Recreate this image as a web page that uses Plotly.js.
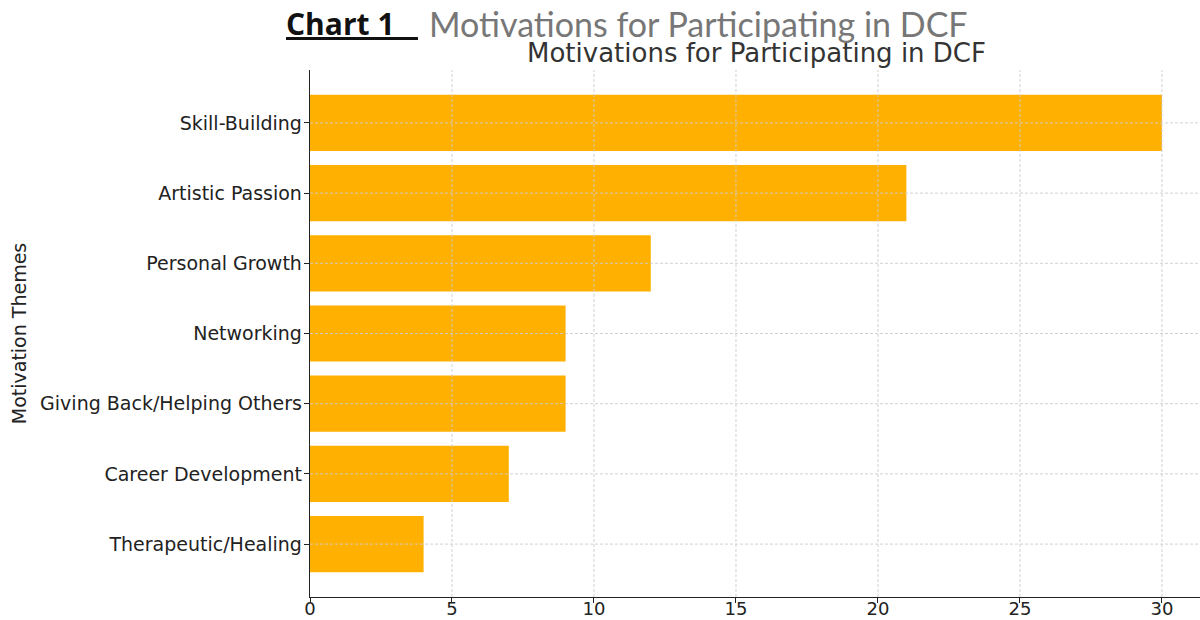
<!DOCTYPE html>
<html>
<head>
<meta charset="utf-8">
<script src="https://cdn.plot.ly/plotly-3.0.1.min.js"></script>
<style>html,body{margin:0;padding:0;background:#fff;}#chart{width:1200px;height:620px;}</style>
</head>
<body>
<div id="chart"></div>
<script>
const categories = ["Therapeutic/Healing", "Career Development", "Giving Back/Helping Others", "Networking", "Personal Growth", "Artistic Passion", "Skill-Building"];
const counts = [4, 7, 9, 9, 12, 21, 30];
const xTicks = [0, 5, 10, 15, 20, 25, 30];

const font = "DejaVu Sans, sans-serif";
const gridStyle = {color: "#cccccc", width: 0.9, dash: "3px,2px"};

const trace = {
  type: "bar",
  orientation: "h",
  y: categories,
  x: counts,
  marker: {color: "#FFB000", line: {width: 0}},
  hoverinfo: "none"
};

// Grid lines drawn above the bars, as in the reference
const shapes = [];
xTicks.forEach(v => {
  if (v === 0) return;
  shapes.push({type: "line", xref: "x", yref: "paper", x0: v, x1: v, y0: 0, y1: 1, layer: "above", line: gridStyle});
});
categories.forEach((c, i) => {
  shapes.push({type: "line", xref: "paper", yref: "y", x0: 0, x1: 1, y0: i, y1: i, layer: "above", line: gridStyle});
});

const layout = {
  width: 1200, height: 620,
  margin: {l: 310, r: 0, t: 70, b: 23},
  paper_bgcolor: "#fff", plot_bgcolor: "#fff",
  bargap: 0.2,
  showlegend: false,
  font: {family: font, color: "#222", size: 19},
  xaxis: {
    range: [0, 31.34],
    tickvals: xTicks,
    ticktext: xTicks.map(String),
    ticks: "outside", ticklen: 5, tickwidth: 1, tickcolor: "#222",
    showline: true, linecolor: "#222", linewidth: 1.3,
    showgrid: false,
    zeroline: false,
    layer: "above traces",
    ticklabelstandoff: -10,
    tickfont: {family: font, size: 18, color: "#222"}
  },
  yaxis: {
    type: "category",
    categoryorder: "array", categoryarray: categories,
    range: [-0.754, 6.754],
    ticks: "outside", ticklen: 5, tickwidth: 1, tickcolor: "#222",
    showline: true, linecolor: "#222", linewidth: 1.3,
    showgrid: false,
    zeroline: false,
    layer: "above traces",
    tickfont: {family: font, size: 19, color: "#222"},
    ticklabelstandoff: -2,
    title: {text: "Motivation Themes", font: {family: font, size: 19, color: "#222"}, standoff: 8}
  },
  shapes: shapes,
  annotations: [
    {xref: "paper", yref: "paper", x: (756 - 310) / 890, y: 1, yshift: 0, xanchor: "center", yanchor: "bottom",
     text: "Motivations for Participating in DCF", showarrow: false,
     font: {family: font, size: 26, color: "#333"}},
    {xref: "paper", yref: "paper", x: (284 - 310) / 890, y: 1, yshift: 24, xanchor: "left", yanchor: "bottom",
     text: "<b><u>Chart 1   </u></b>", showarrow: false,
     font: {family: "Open Sans, sans-serif", size: 30, color: "#111"}},
    {xref: "paper", yref: "paper", x: (427 - 310) / 890, y: 1, yshift: 24, xanchor: "left", yanchor: "bottom",
     text: "Motivations for Participating in DCF", showarrow: false,
     font: {family: "Lato, sans-serif", size: 34, color: "#777"}}
  ]
};

Plotly.newPlot("chart", [trace], layout, {displayModeBar: false, staticPlot: true});
</script>
</body>
</html>
